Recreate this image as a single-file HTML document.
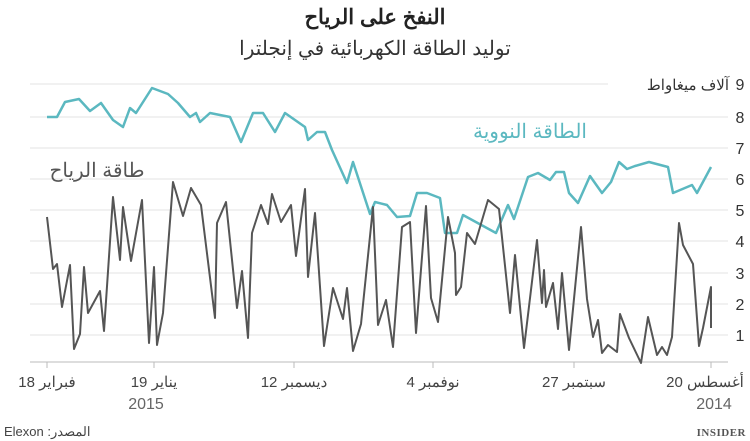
<!DOCTYPE html>
<html><head><meta charset="utf-8"><style>
body{margin:0;background:#fff;}
svg{display:block;font-family:"Liberation Sans","Noto Sans CJK SC",sans-serif;}
</style></head><body>
<svg width="750" height="441" viewBox="0 0 750 441" xmlns="http://www.w3.org/2000/svg">
<text x="375" y="24" text-anchor="middle" font-size="21" font-weight="bold" fill="#222">النفخ على الرياح</text>
<text x="375" y="55" text-anchor="middle" font-size="20" fill="#333">توليد الطاقة الكهربائية في إنجلترا</text>
<g stroke="#e3e3e3" stroke-width="1">
<line x1="30" y1="84" x2="608" y2="84"/>
<line x1="30" y1="117" x2="728" y2="117"/>
<line x1="30" y1="148" x2="728" y2="148"/>
<line x1="30" y1="179" x2="728" y2="179"/>
<line x1="30" y1="210" x2="728" y2="210"/>
<line x1="30" y1="241" x2="728" y2="241"/>
<line x1="30" y1="273" x2="728" y2="273"/>
<line x1="30" y1="304" x2="728" y2="304"/>
<line x1="30" y1="335" x2="728" y2="335"/>
</g>
<line x1="30" y1="362" x2="728" y2="362" stroke="#bbb"/>
<g stroke="#bbb"><line x1="47" y1="362" x2="47" y2="368"/><line x1="154" y1="362" x2="154" y2="368"/><line x1="294" y1="362" x2="294" y2="368"/><line x1="433" y1="362" x2="433" y2="368"/><line x1="574" y1="362" x2="574" y2="368"/><line x1="711" y1="362" x2="711" y2="368"/></g>
<g font-size="16" fill="#333" text-anchor="middle">
<text x="740" y="90">9</text><text x="740" y="123">8</text><text x="740" y="154">7</text><text x="740" y="185">6</text><text x="740" y="216">5</text><text x="740" y="247">4</text><text x="740" y="279">3</text><text x="740" y="310">2</text><text x="740" y="341">1</text>
</g>
<text x="729" y="90" text-anchor="end" font-size="15" fill="#333">آلاف ميغاواط</text>
<g font-size="15" fill="#444" text-anchor="middle">
<text x="47" y="387">18 فبراير</text><text x="154" y="387">19 يناير</text><text x="294" y="387">12 ديسمبر</text><text x="433" y="387">4 نوفمبر</text><text x="574" y="387">27 سبتمبر</text><text x="705" y="387">20 أغسطس</text>
</g>
<text x="146" y="409" font-size="16" fill="#666" text-anchor="middle">2015</text>
<text x="714" y="409" font-size="16" fill="#666" text-anchor="middle">2014</text>
<text x="530" y="138" text-anchor="middle" font-size="20" fill="#5bb8c0">الطاقة النووية</text>
<text x="97" y="177" text-anchor="middle" font-size="20" fill="#555">طاقة الرياح</text>
<polyline fill="none" stroke="#5bb8c0" stroke-width="2.5" stroke-linejoin="round" points="47,117 57,117 65,102 79,99 90,111 101,103 113,120 123,127 130,108 136,113 152,88 168,94 178,103 190,117 196,113 200,122 210,113 230,117 241,142 253,113 263,113 275,132 285,113 305,127 308,140 317,132 325,132 332,150 347,183 353,162 370,214 375,202 387,205 397,217 410,216 417,193 427,193 440,198 445,233 457,233 463,215 496,233 508,205 514,219 528,177 538,173 550,180 556,172 564,172 569,193 578,203 590,176 602,193 611,182 619,162 627,169 635,166 649,162 668,167 673,193 692,185 697,193 711,167"/>
<polyline fill="none" stroke="#555" stroke-width="2" stroke-linejoin="round" points="47,217 53,269 57,264 62,307 70,265 74,349 80,334 84,267 88,313 100,291 104,331 113,197 120,260 123,207 131,261 142,200 149,343 154,267 157,345 163,313 173,182 183,216 191,188 201,205 215,318 217,223 226,202 237,308 242,271 248,338 252,233 261,205 268,224 272,194 281,222 291,205 296,256 305,189 308,277 315,213 324,346 333,288 343,319 347,288 353,351 361,324 373,207 378,325 386,300 393,347 402,227 410,222 416,333 426,206 431,298 438,322 448,217 455,253 456,295 461,287 467,233 475,244 488,200 499,209 510,313 515,255 524,348 537,240 542,303 544,270 546,307 553,283 558,329 562,273 569,350 581,227 587,299 593,337 598,320 602,353 608,345 617,352 620,314 629,338 641,363 648,317 657,355 662,347 667,355 672,337 679,223 683,245 693,264 699,346 703,328 711,287 711,328"/>
<text x="4" y="436" font-size="13" fill="#444">Elexon :المصدر</text>
<text x="746" y="436" text-anchor="end" font-size="11" font-weight="bold" fill="#555" font-family="Liberation Serif,serif" letter-spacing="0.5">INSIDER</text>
</svg>
</body></html>
